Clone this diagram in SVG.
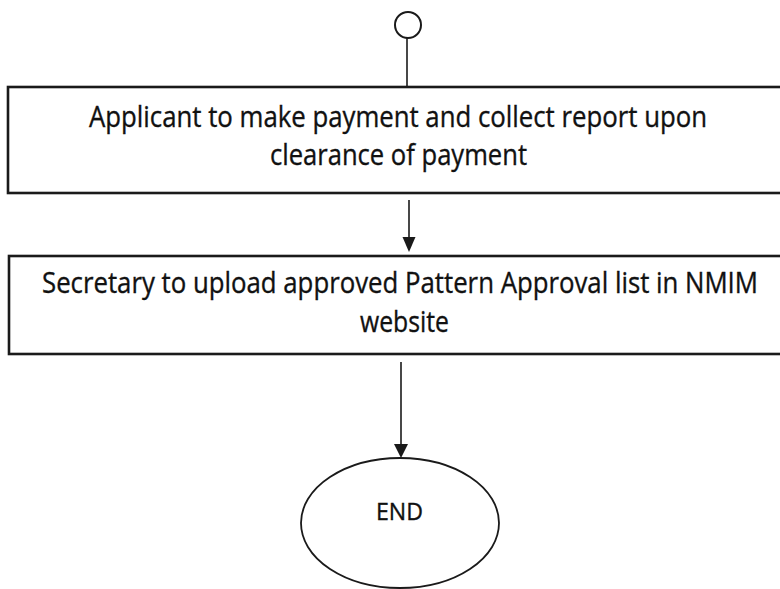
<svg xmlns="http://www.w3.org/2000/svg" width="780" height="589" viewBox="0 0 780 589">
<style>
.box{fill:#fff;stroke:#1a1a1a;stroke-width:2.6}
.t{font-family:"Open Sans",Lato,"Liberation Sans",sans-serif;font-size:28.5px;fill:#111;stroke:#111;stroke-width:0.35;text-anchor:start}
.e{font-size:23.5px}
.c{stroke:#1a1a1a;stroke-width:1.6;fill:none}
.h{fill:#1a1a1a}
</style>
<rect width="780" height="589" fill="#fff"/>
<g id="connectors">
<line class="c" x1="407" y1="38" x2="407" y2="87"/>
<line class="c" x1="409" y1="200" x2="409" y2="238"/>
<path class="h" d="M402.5,237 L415.5,237 L409,252 Z"/>
<line class="c" x1="401" y1="362" x2="401" y2="445"/>
<path class="h" d="M394,444 L408,444 L401,458 Z"/>
</g>
<g id="start">
<circle cx="408" cy="25" r="13" fill="#fff" stroke="#1a1a1a" stroke-width="2"/>
</g>
<g id="step1">
<rect class="box" x="8" y="87" width="790" height="106"/>
<text class="t" x="89" y="127" textLength="618" lengthAdjust="spacingAndGlyphs">Applicant to make payment and collect report upon</text>
<text class="t" x="270" y="165" textLength="257" lengthAdjust="spacingAndGlyphs">clearance of payment</text>
</g>
<g id="step2">
<rect class="box" x="9" y="256" width="790" height="98"/>
<text class="t" x="42" y="293" textLength="716" lengthAdjust="spacingAndGlyphs">Secretary to upload approved Pattern Approval list in NMIM</text>
<text class="t" x="360" y="332" textLength="89" lengthAdjust="spacingAndGlyphs">website</text>
</g>
<g id="end">
<ellipse cx="400" cy="523" rx="99" ry="65" fill="#fff" stroke="#1a1a1a" stroke-width="1.8"/>
<text class="t e" x="376" y="520" textLength="47" lengthAdjust="spacingAndGlyphs">END</text>
</g>
</svg>
